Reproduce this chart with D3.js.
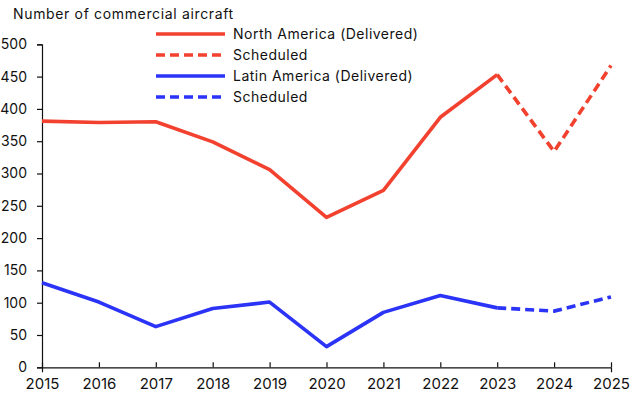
<!DOCTYPE html>
<html>
<head>
<meta charset="utf-8">
<script src="https://cdn.jsdelivr.net/npm/d3@7"></script>
<style>
  html, body { margin: 0; padding: 0; background: #fff; }
  svg { display: block; }
  svg text { font-family: Inter, "Liberation Sans", Arial, sans-serif; }
</style>
</head>
<body>
<svg id="chart" width="640" height="398"></svg>
<script>
const years = [2015, 2016, 2017, 2018, 2019, 2020, 2021, 2022, 2023, 2024, 2025];
const northAmerica = [381, 379, 380, 349, 306, 232, 274, 387, 453, 334, 467];
const latinAmerica = [131, 101, 63, 91, 101, 32, 85, 111, 92, 87, 109];
const deliveredUntil = 2023;
const yTicks = [0, 50, 100, 150, 200, 250, 300, 350, 400, 450, 500];
const titleText = "Number of commercial aircraft";
const legendLabels = ["North America (Delivered)", "Scheduled", "Latin America (Delivered)", "Scheduled"];

const RED = "#f2412f", BLUE = "#2a33f6";
const svg = d3.select("#chart");
const x = d3.scaleLinear().domain([2015, 2025]).range([42, 611]);
const y = d3.scaleLinear().domain([0, 500]).range([367.3, 44.3]);

// title
svg.append("text").attr("x", 13).attr("y", 18.5)
  .attr("font-size", 14).attr("letter-spacing", 0.65).attr("fill", "#111").text(titleText);

// axes
const yAxis = svg.append("g").attr("transform", `translate(${x.range()[0]},0)`)
  .call(d3.axisLeft(y).tickValues(yTicks).tickSize(5).tickPadding(10).tickFormat(d3.format("d")));
const xAxis = svg.append("g").attr("transform", `translate(0,${y(0)})`)
  .call(d3.axisBottom(x).tickValues(years).tickSize(5).tickPadding(6).tickFormat(d3.format("d")));
[yAxis, xAxis].forEach(g => {
  g.attr("font-family", null);
  g.select(".domain").attr("stroke", "#111").attr("stroke-width", 1.2);
  g.selectAll(".tick line").attr("stroke", "#111").attr("stroke-width", 1.2);
  g.selectAll("text").attr("fill", "#111");
});
yAxis.attr("font-size", 14);
xAxis.attr("font-size", 15);
xAxis.selectAll(".tick line").attr("y2", -5);
yAxis.selectAll(".tick line").attr("x2", -5);

const line = d3.line().x(d => x(d[0])).y(d => y(d[1]));

function drawSeries(vals, color) {
  const pts = years.map((yr, i) => [yr, vals[i]]);
  const solid = pts.filter(p => p[0] <= deliveredUntil);
  const dashed = pts.filter(p => p[0] >= deliveredUntil);
  svg.append("path").attr("d", line(solid)).attr("fill", "none")
    .attr("stroke", color).attr("stroke-width", 3.6).attr("stroke-linejoin", "round");
  svg.append("path").attr("d", line(dashed)).attr("fill", "none")
    .attr("stroke", color).attr("stroke-width", 3.6).attr("stroke-dasharray", "9,5");
}
drawSeries(northAmerica, RED);
drawSeries(latinAmerica, BLUE);

// legend
const legendItems = [
  { label: legendLabels[0], color: RED, dash: null },
  { label: legendLabels[1], color: RED, dash: "9,5" },
  { label: legendLabels[2], color: BLUE, dash: null },
  { label: legendLabels[3], color: BLUE, dash: "9,5" }
];
const lg = svg.append("g");
legendItems.forEach((it, i) => {
  const cy = 34 + i * 21;
  lg.append("line").attr("x1", 156).attr("x2", 225).attr("y1", cy).attr("y2", cy)
    .attr("stroke", it.color).attr("stroke-width", 3.6)
    .attr("stroke-dasharray", it.dash);
  lg.append("text").attr("x", 233).attr("y", cy + 5)
    .attr("font-size", 14).attr("letter-spacing", 0.5).attr("fill", "#111").text(it.label);
});
</script>
</body>
</html>
